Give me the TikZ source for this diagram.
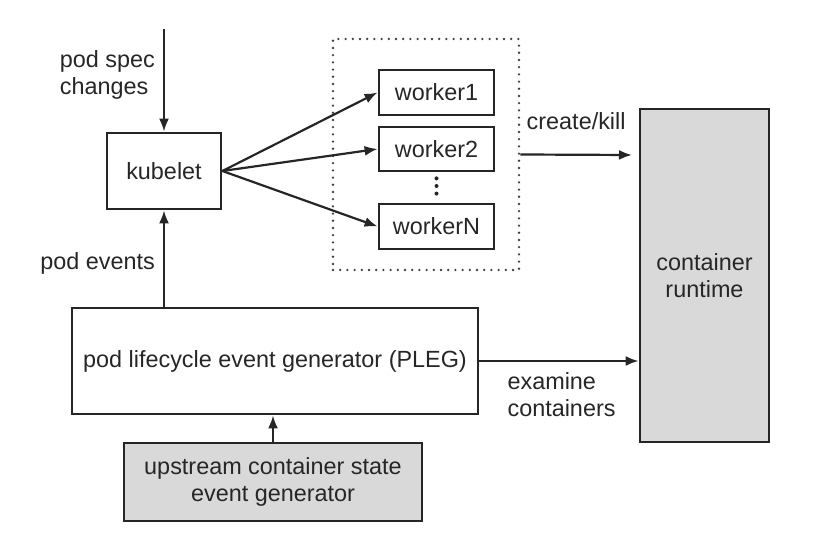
\documentclass[tikz,border=0pt]{standalone}
\usepackage{fontspec}
\setmainfont{Liberation Sans}
\usetikzlibrary{arrows.meta}

\begin{document}
\begin{tikzpicture}[x=0.5pt, y=-0.5pt,
        font=\fontsize{11.7}{13.5}\selectfont, text=black!85,
        box/.style={draw=black!85, line width=1.4pt, inner sep=0pt, align=center},
        greybox/.style={box, fill=black!15},
        arr/.style={-{Latex[length=6.5pt,width=5pt]}, line width=1.1pt, draw=black!85}]
                \useasboundingbox (0,0) rectangle (831,533);
                \node[box, minimum width=57pt, minimum height=38pt] (kubelet) at (164,171) {kubelet};
                \node[draw=black!75, line width=1.3pt, line cap=round, dash pattern=on 0pt off 3.6pt, minimum width=93pt, minimum height=115.5pt] (workers) at (426,154.5) {};
                \node[box, minimum width=57.5pt, minimum height=22.5pt] (worker1) at (436.5,92.5) {worker1};
                \node[box, minimum width=57.5pt, minimum height=22pt] (worker2) at (436.5,149) {worker2};
                \node[box, minimum width=57.5pt, minimum height=22.5pt] (workerN) at (436.5,226.5) {workerN};
                \node[greybox, minimum width=64.5pt, minimum height=166.5pt] (runtime) at (704.5,275.5) {container\\runtime};
                \node[box, minimum width=203pt, minimum height=53pt] (pleg) at (275,361) {pod lifecycle event generator (PLEG)};
                \node[greybox, minimum width=149pt, minimum height=39pt] (upstream) at (273,482) {upstream container state\\event generator};
                \coordinate (specin) at (164,29);
                \coordinate (killend) at (632,155);
                % arrows
                \draw[arr] (specin) -- (kubelet.north) node[pos=0.45, left, inner sep=0pt, xshift=-4pt, align=left] (speclabel) {pod spec\\changes};
                \draw[arr] (pleg.north -| kubelet) -- (kubelet.south) node[pos=0.45, left, inner sep=0pt, xshift=-4pt] (eventslabel) {pod events};
                \draw[arr] (kubelet.east) -- (worker1.west);
                \draw[arr] (kubelet.east) -- (worker2.west);
                \draw[arr] (kubelet.east) -- (workerN.west);
                \draw[line width=2pt, line cap=round, dash pattern=on 0pt off 3.8pt, draw=black!85, shorten <=3pt, shorten >=3.5pt] (worker2.south) -- (workerN.north);
                \draw[arr] (workers.east) -- (killend) node[midway, above, inner sep=0pt, yshift=12pt] (killlabel) {create/kill};
                \draw[arr] (pleg.east) -- (pleg.east -| runtime.west) node[pos=0.17, below right, inner sep=0pt, yshift=-5pt, align=left] (examinelabel) {examine\\containers};
                \draw[arr] (upstream.north) -- (upstream.north |- pleg.south);
            \end{tikzpicture}
\end{document}
